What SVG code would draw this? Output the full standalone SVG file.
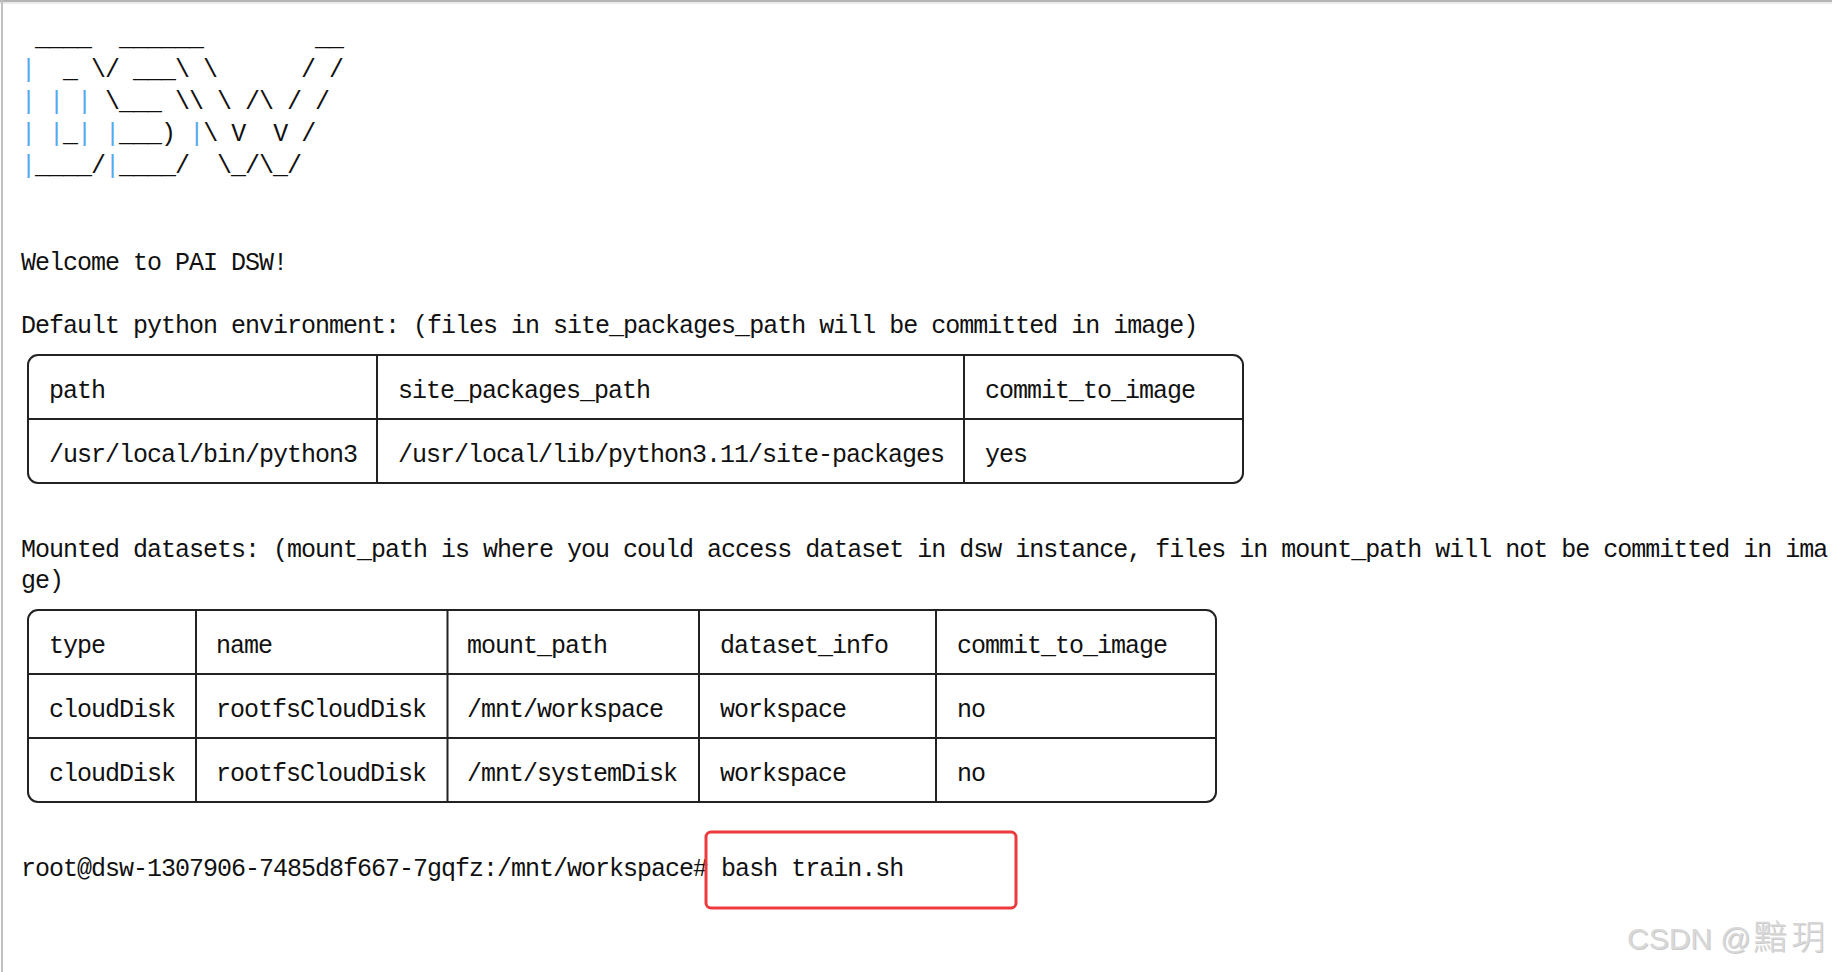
<svg xmlns="http://www.w3.org/2000/svg" width="1832" height="972" viewBox="0 0 1832 972">
<style>
  .t { font-family: "Liberation Mono", "DejaVu Sans Mono", monospace; font-size: 25px; letter-spacing: -1px; fill: #111; white-space: pre; }
  .p { fill: #56a8ee; }
  .grid { fill: none; stroke: #222; stroke-width: 2; }
  .ln { stroke: #222; stroke-width: 2; }
  .wm { font-family: "Liberation Sans", Arial, "Noto Sans CJK SC", sans-serif; font-size: 30px; }
  .wmc { font-family: "Noto Sans CJK SC", "Liberation Sans", sans-serif; font-size: 34px; font-weight: 300; letter-spacing: 4px; }
</style>
<rect x="0" y="0" width="1832" height="972" fill="#ffffff"/>
<g id="frame">
  <line x1="0" y1="1" x2="1832" y2="1" stroke="#b4b4b4" stroke-width="2"/>
  <line x1="0" y1="3" x2="1832" y2="3" stroke="#ececec" stroke-width="2"/>
  <line x1="2" y1="0" x2="2" y2="972" stroke="#c0c0c0" stroke-width="2"/>
</g>
<g id="ascii-art" xml:space="preserve">
  <text class="t" x="21" y="45"> ____  ______        __</text>
  <text class="t" x="21" y="77"><tspan class="p">|</tspan>  _ \/ ___\ \      / /</text>
  <text class="t" x="21" y="109"><tspan class="p">|</tspan> <tspan class="p">|</tspan> <tspan class="p">|</tspan> \___ \\ \ /\ / /</text>
  <text class="t" x="21" y="141"><tspan class="p">|</tspan> <tspan class="p">|</tspan>_<tspan class="p">|</tspan> <tspan class="p">|</tspan>___) <tspan class="p">|</tspan>\ V  V /</text>
  <text class="t" x="21" y="173"><tspan class="p">|</tspan>____/<tspan class="p">|</tspan>____/  \_/\_/</text>
</g>
<g id="welcome" xml:space="preserve">
  <text class="t" x="21" y="270">Welcome to PAI DSW!</text>
  <text class="t" x="21" y="333">Default python environment: (files in site_packages_path will be committed in image)</text>
</g>
<g id="python-env-table">
  <rect class="grid" x="28" y="355" width="1215" height="128" rx="10" ry="10"/>
  <line class="ln" x1="28" y1="419" x2="1243" y2="419"/>
  <line class="ln" x1="377" y1="355" x2="377" y2="483"/>
  <line class="ln" x1="964" y1="355" x2="964" y2="483"/>
  <text class="t" x="49" y="398">path</text>
  <text class="t" x="398" y="398">site_packages_path</text>
  <text class="t" x="985" y="398">commit_to_image</text>
  <text class="t" x="49" y="462">/usr/local/bin/python3</text>
  <text class="t" x="398" y="462">/usr/local/lib/python3.11/site-packages</text>
  <text class="t" x="985" y="462">yes</text>
</g>
<g id="datasets-caption" xml:space="preserve">
  <text class="t" x="21" y="557">Mounted datasets: (mount_path is where you could access dataset in dsw instance, files in mount_path will not be committed in ima</text>
  <text class="t" x="21" y="588">ge)</text>
</g>
<g id="datasets-table">
  <rect class="grid" x="28" y="610" width="1188" height="192" rx="10" ry="10"/>
  <line class="ln" x1="28" y1="674" x2="1216" y2="674"/>
  <line class="ln" x1="28" y1="738" x2="1216" y2="738"/>
  <line class="ln" x1="196" y1="610" x2="196" y2="802"/>
  <line class="ln" x1="447.5" y1="610" x2="447.5" y2="802"/>
  <line class="ln" x1="699" y1="610" x2="699" y2="802"/>
  <line class="ln" x1="936" y1="610" x2="936" y2="802"/>
  <text class="t" x="49" y="653">type</text>
  <text class="t" x="216" y="653">name</text>
  <text class="t" x="467" y="653">mount_path</text>
  <text class="t" x="720" y="653">dataset_info</text>
  <text class="t" x="957" y="653">commit_to_image</text>
  <text class="t" x="49" y="717">cloudDisk</text>
  <text class="t" x="216" y="717">rootfsCloudDisk</text>
  <text class="t" x="467" y="717">/mnt/workspace</text>
  <text class="t" x="720" y="717">workspace</text>
  <text class="t" x="957" y="717">no</text>
  <text class="t" x="49" y="781">cloudDisk</text>
  <text class="t" x="216" y="781">rootfsCloudDisk</text>
  <text class="t" x="467" y="781">/mnt/systemDisk</text>
  <text class="t" x="720" y="781">workspace</text>
  <text class="t" x="957" y="781">no</text>
</g>
<g id="prompt" xml:space="preserve">
  <text class="t" x="21" y="876">root@dsw-1307906-7485d8f667-7gqfz:/mnt/workspace# bash train.sh</text>
  <rect id="highlight" x="706" y="832" width="310" height="76" rx="5" ry="5" fill="none" stroke="#ee3a3d" stroke-width="3"/>
</g>
<g id="watermark">
  <text x="1628" y="950" fill="#a8a8a8" opacity="0.6"><tspan class="wm">CSDN @</tspan><tspan class="wmc" x="1754">黯玥</tspan></text>
  <text x="1627" y="949" fill="#d8d8d8"><tspan class="wm">CSDN @</tspan><tspan class="wmc" x="1753">黯玥</tspan></text>
</g>
</svg>
